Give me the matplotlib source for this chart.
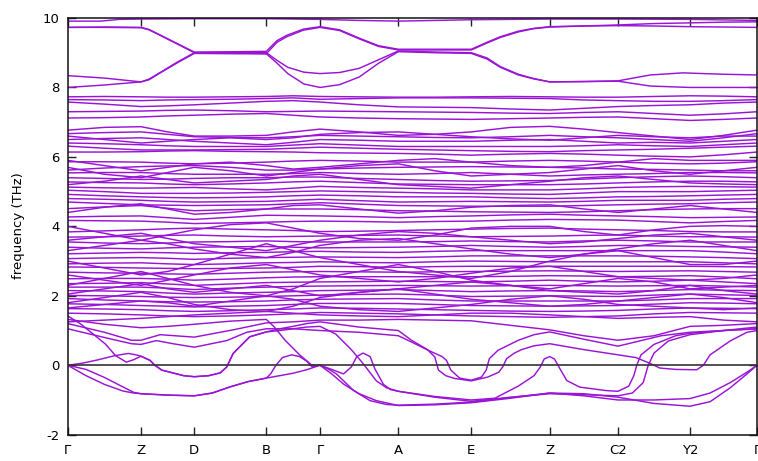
import numpy as np
import matplotlib
matplotlib.use("Agg")
import matplotlib.pyplot as plt

# ---------------- data ----------------
hs_labels = ["Γ", "Z", "D", "B", "Γ", "A", "E", "Z", "C2", "Y2", "Γ"]
hs_dist = [0.0, 0.733, 1.266, 1.986, 2.523, 3.306, 4.036, 4.820, 5.503, 6.223, 6.893]
y_ticks = [-2, 0, 2, 4, 6, 8, 10]

# dense optical bands, values at high-symmetry points and segment midpoints
dense_high = [
    [7.73, 7.74, 7.73, 7.72, 7.72, 7.73, 7.74, 7.76, 7.74, 7.73, 7.72, 7.72, 7.73, 7.74, 7.73, 7.72, 7.72, 7.74, 7.76, 7.75, 7.73],
    [7.65, 7.64, 7.62, 7.64, 7.65, 7.66, 7.68, 7.70, 7.66, 7.68, 7.70, 7.70, 7.70, 7.69, 7.68, 7.64, 7.62, 7.60, 7.60, 7.62, 7.65],
    [7.58, 7.52, 7.45, 7.47, 7.50, 7.55, 7.60, 7.62, 7.58, 7.50, 7.44, 7.43, 7.42, 7.38, 7.35, 7.40, 7.45, 7.48, 7.50, 7.55, 7.58],
    [7.30, 7.31, 7.32, 7.34, 7.35, 7.33, 7.30, 7.31, 7.32, 7.31, 7.30, 7.29, 7.28, 7.26, 7.25, 7.28, 7.30, 7.25, 7.20, 7.24, 7.30],
    [7.12, 7.13, 7.15, 7.18, 7.20, 7.23, 7.25, 7.20, 7.15, 7.12, 7.10, 7.09, 7.08, 7.10, 7.12, 7.14, 7.15, 7.10, 7.05, 7.08, 7.12],
    [6.77, 6.85, 6.87, 6.72, 6.60, 6.60, 6.62, 6.72, 6.80, 6.72, 6.62, 6.65, 6.72, 6.85, 6.88, 6.80, 6.70, 6.60, 6.50, 6.62, 6.77],
    [6.67, 6.70, 6.72, 6.65, 6.58, 6.56, 6.55, 6.58, 6.62, 6.60, 6.58, 6.56, 6.55, 6.58, 6.62, 6.58, 6.55, 6.50, 6.45, 6.55, 6.67],
    [6.50, 6.53, 6.55, 6.50, 6.45, 6.40, 6.35, 6.42, 6.50, 6.48, 6.45, 6.45, 6.45, 6.48, 6.50, 6.45, 6.40, 6.42, 6.40, 6.45, 6.50],
    [6.40, 6.38, 6.35, 6.32, 6.30, 6.30, 6.30, 6.34, 6.38, 6.34, 6.30, 6.30, 6.30, 6.30, 6.30, 6.32, 6.35, 6.32, 6.30, 6.35, 6.40],
    [6.31, 6.25, 6.20, 6.20, 6.20, 6.21, 6.22, 6.25, 6.28, 6.25, 6.22, 6.20, 6.18, 6.16, 6.15, 6.18, 6.20, 6.22, 6.25, 6.28, 6.31],
    [6.14, 6.14, 6.15, 6.17, 6.18, 6.16, 6.15, 6.14, 6.12, 6.11, 6.10, 6.08, 6.05, 6.08, 6.10, 6.08, 6.05, 6.02, 6.00, 6.06, 6.14],
    [5.86, 5.86, 5.85, 5.82, 5.80, 5.82, 5.85, 5.88, 5.90, 5.88, 5.85, 5.85, 5.85, 5.88, 5.90, 5.88, 5.85, 5.82, 5.80, 5.82, 5.86],
    [5.62, 5.68, 5.72, 5.74, 5.75, 5.70, 5.62, 5.62, 5.65, 5.68, 5.70, 5.71, 5.72, 5.71, 5.70, 5.68, 5.65, 5.64, 5.62, 5.60, 5.60],
    [5.54, 5.55, 5.55, 5.52, 5.50, 5.50, 5.50, 5.52, 5.55, 5.52, 5.50, 5.52, 5.55, 5.50, 5.45, 5.48, 5.50, 5.52, 5.55, 5.55, 5.54],
    [5.40, 5.38, 5.35, 5.36, 5.38, 5.40, 5.40, 5.42, 5.42, 5.38, 5.35, 5.32, 5.30, 5.31, 5.32, 5.36, 5.40, 5.43, 5.45, 5.43, 5.40],
    [5.28, 5.26, 5.25, 5.22, 5.20, 5.22, 5.25, 5.28, 5.30, 5.26, 5.22, 5.21, 5.20, 5.20, 5.20, 5.22, 5.25, 5.28, 5.30, 5.30, 5.28],
    [5.13, 5.11, 5.10, 5.11, 5.12, 5.08, 5.05, 5.10, 5.15, 5.12, 5.10, 5.08, 5.05, 5.05, 5.05, 5.08, 5.12, 5.14, 5.15, 5.14, 5.13],
    [5.04, 5.00, 4.95, 4.95, 4.95, 4.96, 4.98, 5.00, 5.02, 5.00, 4.98, 4.96, 4.95, 4.93, 4.92, 4.96, 5.00, 5.00, 5.00, 5.02, 5.04],
    [4.92, 4.88, 4.85, 4.83, 4.82, 4.83, 4.85, 4.88, 4.90, 4.88, 4.85, 4.85, 4.85, 4.82, 4.80, 4.82, 4.85, 4.86, 4.88, 4.90, 4.92],
    [4.80, 4.78, 4.75, 4.72, 4.70, 4.71, 4.72, 4.75, 4.78, 4.74, 4.70, 4.71, 4.72, 4.71, 4.70, 4.72, 4.75, 4.75, 4.75, 4.78, 4.80],
    [4.70, 4.66, 4.62, 4.61, 4.60, 4.61, 4.62, 4.65, 4.68, 4.64, 4.60, 4.59, 4.58, 4.58, 4.58, 4.60, 4.62, 4.64, 4.65, 4.68, 4.70],
    [4.51, 4.56, 4.60, 4.52, 4.45, 4.48, 4.50, 4.50, 4.50, 4.48, 4.45, 4.44, 4.42, 4.41, 4.40, 4.42, 4.45, 4.48, 4.50, 4.51, 4.51],
    [4.27, 4.29, 4.30, 4.25, 4.20, 4.26, 4.32, 4.31, 4.30, 4.28, 4.25, 4.28, 4.30, 4.33, 4.35, 4.32, 4.30, 4.28, 4.25, 4.26, 4.27],
    [4.17, 4.16, 4.15, 4.12, 4.08, 4.10, 4.12, 4.14, 4.15, 4.14, 4.12, 4.14, 4.15, 4.18, 4.20, 4.19, 4.18, 4.14, 4.10, 4.14, 4.17],
]
dense_mid = [
    [3.84, 3.87, 3.90, 3.93, 3.95, 3.92, 3.90, 3.88, 3.85, 3.86, 3.88, 3.90, 3.92, 3.94, 3.95, 3.92, 3.90, 3.88, 3.85, 3.84, 3.84],
    [3.69, 3.70, 3.72, 3.74, 3.75, 3.72, 3.70, 3.71, 3.72, 3.74, 3.75, 3.72, 3.70, 3.71, 3.72, 3.74, 3.75, 3.72, 3.70, 3.70, 3.69],
    [3.55, 3.52, 3.50, 3.52, 3.55, 3.56, 3.58, 3.56, 3.55, 3.55, 3.55, 3.56, 3.58, 3.56, 3.55, 3.58, 3.60, 3.58, 3.55, 3.55, 3.55],
    [3.40, 3.37, 3.35, 3.38, 3.40, 3.41, 3.42, 3.40, 3.38, 3.39, 3.40, 3.42, 3.45, 3.42, 3.40, 3.42, 3.45, 3.44, 3.42, 3.41, 3.40],
    [3.21, 3.23, 3.25, 3.24, 3.22, 3.24, 3.25, 3.27, 3.28, 3.26, 3.25, 3.28, 3.30, 3.30, 3.30, 3.30, 3.30, 3.30, 3.30, 3.26, 3.21],
    [3.07, 3.09, 3.10, 3.08, 3.05, 3.08, 3.10, 3.11, 3.12, 3.11, 3.10, 3.12, 3.15, 3.15, 3.15, 3.15, 3.15, 3.14, 3.12, 3.10, 3.07],
    [2.92, 2.94, 2.95, 2.92, 2.90, 2.92, 2.95, 2.96, 2.98, 2.96, 2.95, 2.98, 3.00, 2.99, 2.98, 2.98, 2.98, 2.98, 2.98, 2.95, 2.92],
    [2.83, 2.82, 2.80, 2.79, 2.78, 2.79, 2.80, 2.82, 2.85, 2.84, 2.82, 2.84, 2.85, 2.85, 2.85, 2.85, 2.85, 2.85, 2.85, 2.84, 2.83],
]
dense_low = [
    [2.68, 2.66, 2.65, 2.63, 2.62, 2.65, 2.68, 2.69, 2.70, 2.69, 2.68, 2.69, 2.70, 2.71, 2.72, 2.71, 2.70, 2.71, 2.72, 2.70, 2.68],
    [2.49, 2.50, 2.50, 2.48, 2.45, 2.48, 2.52, 2.54, 2.55, 2.55, 2.55, 2.55, 2.55, 2.56, 2.58, 2.57, 2.55, 2.56, 2.58, 2.54, 2.49],
    [2.35, 2.36, 2.38, 2.34, 2.30, 2.34, 2.38, 2.39, 2.40, 2.41, 2.42, 2.41, 2.40, 2.42, 2.45, 2.42, 2.40, 2.42, 2.45, 2.40, 2.35],
    [2.25, 2.25, 2.25, 2.22, 2.18, 2.22, 2.25, 2.27, 2.28, 2.29, 2.30, 2.29, 2.28, 2.29, 2.30, 2.29, 2.28, 2.29, 2.30, 2.28, 2.25],
    [2.15, 2.14, 2.12, 2.08, 2.05, 2.08, 2.10, 2.12, 2.15, 2.16, 2.18, 2.15, 2.12, 2.14, 2.15, 2.14, 2.12, 2.15, 2.18, 2.16, 2.15],
    [2.01, 2.00, 1.98, 1.96, 1.95, 1.96, 1.98, 2.00, 2.02, 2.04, 2.05, 2.02, 1.98, 1.99, 2.00, 1.99, 1.98, 2.02, 2.05, 2.03, 2.01],
    [1.92, 1.88, 1.85, 1.83, 1.82, 1.83, 1.85, 1.88, 1.90, 1.91, 1.92, 1.88, 1.85, 1.85, 1.85, 1.85, 1.85, 1.88, 1.92, 1.92, 1.92],
    [1.77, 1.75, 1.72, 1.70, 1.68, 1.70, 1.72, 1.75, 1.78, 1.78, 1.78, 1.75, 1.72, 1.71, 1.70, 1.71, 1.72, 1.76, 1.80, 1.79, 1.77],
    [1.63, 1.62, 1.60, 1.57, 1.55, 1.57, 1.60, 1.62, 1.65, 1.64, 1.62, 1.60, 1.58, 1.56, 1.55, 1.56, 1.58, 1.62, 1.65, 1.64, 1.63],
    [1.50, 1.48, 1.45, 1.42, 1.40, 1.42, 1.45, 1.48, 1.52, 1.50, 1.48, 1.45, 1.42, 1.40, 1.38, 1.40, 1.42, 1.48, 1.52, 1.51, 1.50],
]
dense_wander = [
    [3.00, 2.80, 2.60, 2.70, 2.90, 3.20, 3.50, 3.30, 3.10, 2.90, 2.70, 2.60, 2.50, 2.70, 3.00, 3.20, 3.30, 3.10, 2.90, 2.90, 3.00],
    [2.30, 2.50, 2.70, 2.50, 2.30, 2.10, 2.00, 2.20, 2.50, 2.70, 2.90, 2.70, 2.45, 2.30, 2.20, 2.35, 2.50, 2.40, 2.20, 2.25, 2.30],
    [4.00, 3.80, 3.60, 3.75, 3.90, 4.05, 4.10, 3.95, 3.80, 3.65, 3.60, 3.75, 3.95, 4.00, 4.00, 3.85, 3.75, 3.90, 4.00, 4.02, 4.00],
    [5.70, 5.50, 5.40, 5.55, 5.70, 5.60, 5.45, 5.55, 5.65, 5.75, 5.80, 5.60, 5.45, 5.50, 5.55, 5.65, 5.75, 5.60, 5.50, 5.60, 5.70],
    [1.80, 1.95, 2.10, 1.95, 1.75, 1.60, 1.55, 1.70, 1.95, 2.10, 2.20, 2.05, 1.90, 1.80, 1.70, 1.75, 1.85, 1.95, 2.05, 1.95, 1.80],
    [3.30, 3.45, 3.60, 3.50, 3.35, 3.20, 3.10, 3.25, 3.45, 3.60, 3.65, 3.50, 3.35, 3.20, 3.10, 3.20, 3.35, 3.50, 3.60, 3.45, 3.30],
    [4.40, 4.55, 4.65, 4.50, 4.35, 4.40, 4.50, 4.60, 4.62, 4.50, 4.38, 4.45, 4.55, 4.60, 4.62, 4.50, 4.40, 4.50, 4.60, 4.50, 4.40],
    [5.90, 5.75, 5.60, 5.70, 5.80, 5.85, 5.75, 5.65, 5.70, 5.80, 5.90, 5.95, 5.85, 5.75, 5.70, 5.75, 5.85, 5.95, 5.90, 5.90, 5.90],
    [2.60, 2.45, 2.30, 2.45, 2.60, 2.80, 2.90, 2.75, 2.60, 2.50, 2.40, 2.50, 2.65, 2.80, 2.85, 2.70, 2.55, 2.50, 2.45, 2.50, 2.60],
    [1.65, 1.75, 1.85, 1.80, 1.70, 1.85, 2.00, 1.90, 1.70, 1.60, 1.55, 1.65, 1.75, 1.90, 2.00, 1.90, 1.75, 1.70, 1.65, 1.60, 1.65],
    [3.60, 3.70, 3.80, 3.65, 3.50, 3.40, 3.30, 3.45, 3.60, 3.75, 3.85, 3.80, 3.70, 3.60, 3.50, 3.55, 3.65, 3.75, 3.80, 3.70, 3.60],
    [5.20, 5.30, 5.45, 5.35, 5.25, 5.30, 5.35, 5.45, 5.50, 5.35, 5.20, 5.15, 5.10, 5.20, 5.30, 5.40, 5.45, 5.35, 5.25, 5.22, 5.20],
    [6.60, 6.50, 6.40, 6.45, 6.50, 6.55, 6.50, 6.55, 6.65, 6.70, 6.72, 6.65, 6.58, 6.52, 6.48, 6.55, 6.62, 6.58, 6.55, 6.60, 6.60],
    [2.05, 2.20, 2.35, 2.20, 2.10, 2.20, 2.30, 2.15, 2.00, 2.10, 2.20, 2.30, 2.40, 2.30, 2.15, 2.10, 2.05, 2.15, 2.30, 2.15, 2.05],
    [1.25, 1.30, 1.35, 1.40, 1.45, 1.50, 1.55, 1.50, 1.45, 1.42, 1.40, 1.45, 1.50, 1.50, 1.45, 1.40, 1.35, 1.38, 1.40, 1.30, 1.25],
]

# bands read as (path position in segments, frequency) knots
band_T1 = [(0, 9.91), (0.45, 9.91), (0.7, 9.96), (1, 9.97), (2, 9.98), (3, 9.98), (4, 9.96), (4.5, 9.93),
           (5, 9.91), (5.5, 9.93), (6, 9.95), (7, 9.97), (8, 9.97), (9, 9.96), (10, 9.93)]
band_T2 = [(0, 9.73), (0.5, 9.74), (1, 9.73), (1.15, 9.67), (1.36, 9.51), (1.67, 9.27), (2, 9.02), (2.65, 9.03),
           (3, 9.04), (3.2, 9.35), (3.38, 9.5), (3.69, 9.68), (4, 9.75), (4.25, 9.66), (4.5, 9.42), (4.75, 9.2),
           (5, 9.1), (5.5, 9.1), (6, 9.1), (6.2, 9.3), (6.37, 9.46), (6.6, 9.62), (6.79, 9.7), (7, 9.75),
           (7.5, 9.77), (8, 9.78), (8.5, 9.77), (9, 9.75), (9.5, 9.74), (10, 9.73)]
band_T3 = [(0, 9.73), (0.5, 9.73), (1, 9.72), (1.15, 9.66), (1.36, 9.5), (1.67, 9.26), (2, 9.0), (2.65, 8.99),
           (3, 8.97), (3.2, 9.3), (3.38, 9.46), (3.69, 9.65), (4, 9.73), (4.25, 9.64), (4.5, 9.4), (4.75, 9.18),
           (5, 9.08), (5.5, 9.08), (6, 9.08), (6.2, 9.28), (6.37, 9.44), (6.6, 9.6), (6.79, 9.69), (7, 9.74),
           (7.5, 9.77), (8, 9.8), (8.5, 9.84), (9, 9.86), (9.5, 9.88), (10, 9.89)]
band_T4 = [(0, 8.34), (0.5, 8.27), (1, 8.16), (1.15, 8.24), (1.36, 8.43), (1.67, 8.72), (2, 9.0), (2.65, 9.0),
           (3, 9.0), (3.2, 8.78), (3.4, 8.58), (3.7, 8.44), (4, 8.4), (4.25, 8.43), (4.5, 8.55), (4.75, 8.8),
           (5, 9.05), (5.5, 9.02), (6, 9.0), (6.2, 8.85), (6.37, 8.6), (6.6, 8.38), (6.79, 8.26), (7, 8.16),
           (7.5, 8.17), (8, 8.19), (8.45, 8.36), (8.9, 8.42), (9.5, 8.38), (10, 8.36)]
band_T5 = [(0, 8.0), (0.5, 8.07), (1, 8.16), (1.15, 8.22), (1.36, 8.42), (1.67, 8.7), (2, 8.98), (2.65, 8.97),
           (3, 8.97), (3.2, 8.7), (3.4, 8.4), (3.7, 8.1), (4, 8.0), (4.25, 8.08), (4.5, 8.3), (4.75, 8.7),
           (5, 9.03), (5.5, 9.0), (6, 8.98), (6.2, 8.82), (6.37, 8.58), (6.6, 8.36), (6.79, 8.25), (7, 8.16),
           (7.5, 8.17), (8, 8.18), (8.45, 8.04), (9, 8.0), (9.5, 8.0), (10, 8.0)]

band_L1 = [(0, 0), (0.25, -0.3), (0.5, -0.55), (0.75, -0.74), (0.9, -0.8), (1, -0.82), (1.5, -0.86), (2, -0.88),
           (2.25, -0.8), (2.5, -0.62), (2.75, -0.47), (3, -0.37), (3.25, -0.3), (3.5, -0.23), (3.75, -0.13),
           (4, 0), (4.15, -0.25), (4.3, -0.54), (4.5, -0.82), (4.72, -1.02), (5, -1.16), (5.5, -1.14),
           (6, -1.08), (6.5, -0.95), (7, -0.8), (7.5, -0.82), (8, -0.92), (8.5, -1.1), (9, -1.18),
           (9.3, -1.05), (9.6, -0.65), (9.85, -0.25), (10, 0)]
band_L2 = [(0, 0), (0.25, -0.12), (0.5, -0.35), (0.75, -0.62), (0.9, -0.78), (1, -0.82), (1.5, -0.86), (2, -0.88),
           (2.25, -0.8), (2.5, -0.62), (2.75, -0.47), (3, -0.37), (3.08, -0.25), (3.18, 0.0), (3.3, 0.22),
           (3.47, 0.3), (3.62, 0.25), (3.75, 0.12), (3.85, -0.04), (4, 0), (4.1, -0.1), (4.21, -0.25),
           (4.43, -0.73), (4.64, -1.02), (4.85, -1.13), (5, -1.15), (5.5, -1.12), (6, -1.06), (6.5, -0.93),
           (7, -0.8), (7.5, -0.88), (8, -1.0), (8.5, -1.0), (9, -0.96), (9.3, -0.8), (9.6, -0.5),
           (9.85, -0.2), (10, 0)]
band_L3 = [(0, 0), (0.2, 0.06), (0.4, 0.15), (0.65, 0.28), (0.83, 0.34), (0.95, 0.29), (1, 0.26), (1.17, 0.14),
           (1.26, 0.0), (1.39, -0.14), (1.8, -0.3), (2, -0.33), (2.2, -0.3), (2.36, -0.22), (2.45, -0.05),
           (2.54, 0.34), (2.77, 0.82), (3, 0.96), (3.25, 1.0), (3.5, 1.05), (3.75, 1.1), (4, 1.12),
           (4.2, 0.9), (4.4, 0.45), (4.55, 0.05), (4.72, -0.45), (4.85, -0.65), (5, -0.75), (5.5, -0.92),
           (6, -1.04), (6.5, -0.92), (7, -0.82), (7.5, -0.85), (8, -0.88), (8.2, -0.8), (8.35, -0.5),
           (8.42, 0.0), (8.5, 0.35), (8.7, 0.7), (9, 0.88), (9.5, 1.0), (10, 1.05)]
band_L4 = [(0, 1.42), (0.17, 1.2), (0.37, 0.86), (0.52, 0.6), (0.65, 0.28), (0.8, 0.09), (0.9, 0.16), (1, 0.26),
           (1.17, 0.14), (1.26, 0.0), (1.39, -0.14), (1.8, -0.3), (2, -0.33), (2.2, -0.3), (2.36, -0.22),
           (2.45, -0.05), (2.54, 0.34), (2.77, 0.82), (3, 0.96), (3.25, 1.05), (3.5, 1.12), (3.75, 1.2),
           (4, 1.25), (4.5, 1.1), (5, 1.0), (5.18, 0.72), (5.4, 0.45), (5.5, 0.24), (5.55, -0.14),
           (5.65, -0.3), (5.77, -0.38), (6, -0.45), (6.21, -0.34), (6.35, -0.2), (6.4, -0.05), (6.45, 0.19),
           (6.55, 0.35), (6.64, 0.45), (6.8, 0.56), (7, 0.62), (7.5, 0.45), (8, 0.3), (8.25, 0.22),
           (8.45, 0.05), (8.58, -0.08), (8.8, -0.12), (9.1, -0.13), (9.2, 0.0), (9.3, 0.3), (9.6, 0.7),
           (9.85, 0.95), (10, 1.0)]
band_L5 = [(0, 1.32), (0.5, 1.18), (1, 1.08), (1.5, 1.12), (2, 1.18), (2.5, 1.27), (3, 1.32), (3.15, 1.1),
           (3.35, 0.72), (3.62, 0.3), (3.85, 0.0), (4, 0), (4.15, -0.12), (4.3, -0.25), (4.4, -0.05),
           (4.47, 0.25), (4.55, 0.35), (4.64, 0.25), (4.7, -0.1), (4.81, -0.55), (4.9, -0.7), (5, -0.75),
           (5.5, -0.9), (6, -1.0), (6.3, -0.95), (6.6, -0.6), (6.8, -0.3), (6.88, -0.05), (6.93, 0.18),
           (7, 0.25), (7.07, 0.18), (7.15, -0.1), (7.25, -0.44), (7.44, -0.63), (7.83, -0.73), (8, -0.75),
           (8.15, -0.6), (8.22, -0.3), (8.26, 0.0), (8.32, 0.3), (8.5, 0.6), (8.8, 0.85), (9, 0.92),
           (9.5, 1.0), (10, 1.1)]
band_U1 = [(0, 1.05), (0.5, 0.8), (0.87, 0.62), (1, 0.6), (1.29, 0.71), (1.6, 0.62), (2, 0.52), (2.45, 0.71),
           (2.73, 0.95), (3, 1.05), (3.5, 1.05), (4, 1.0), (4.5, 0.95), (5, 0.85), (5.2, 0.65), (5.41, 0.43),
           (5.6, 0.25), (5.66, 0.14), (5.72, -0.14), (5.84, -0.37), (6, -0.43), (6.13, -0.34), (6.19, -0.14),
           (6.23, 0.19), (6.34, 0.43), (6.6, 0.72), (6.8, 0.88), (7, 0.96), (7.5, 0.75), (8, 0.55),
           (8.3, 0.7), (8.6, 0.85), (9, 0.95), (9.5, 1.0), (10, 1.05)]
band_U2 = [(0, 1.2), (0.5, 0.95), (0.87, 0.72), (1, 0.72), (1.36, 0.88), (2, 0.81), (2.54, 1.02), (3, 1.22),
           (3.5, 1.25), (4, 1.3), (4.5, 1.3), (5, 1.32), (5.5, 1.3), (6, 1.28), (6.5, 1.15), (7, 1.02),
           (7.5, 0.85), (8, 0.72), (8.5, 0.85), (9, 1.12), (9.5, 1.15), (10, 1.2)]

knot_bands = [band_T1, band_T2, band_T3, band_T4, band_T5,
              band_L1, band_L2, band_L3, band_L4, band_L5, band_U1, band_U2]

# ---------------- drawing ----------------
W, H = 758, 461
fig = plt.figure(figsize=(W / 100, H / 100), dpi=100)
ax = fig.add_axes([67.7 / W, 1 - 434.7 / H, (757.0 - 67.7) / W, (434.7 - 18.0) / H])

line_color = "#9a14d6"
lw = 1.05
seg_idx = np.arange(len(hs_dist))


def to_k(s):
    return np.interp(np.asarray(s, dtype=float), seg_idx, hs_dist)


mid_pos = np.arange(0, len(hs_dist) - 0.99, 0.5)
for group in (dense_high, dense_mid, dense_low, dense_wander):
    for row in group:
        ax.plot(to_k(mid_pos), row, color=line_color, lw=lw, solid_joinstyle="round")

for band in knot_bands:
    s_vals = [p[0] for p in band]
    f_vals = [p[1] for p in band]
    ax.plot(to_k(s_vals), f_vals, color=line_color, lw=lw, solid_joinstyle="round")

ax.axhline(0, color="#333333", lw=1.2, zorder=5)

ax.set_xlim(hs_dist[0], hs_dist[-1])
ax.set_ylim(-2, 10)
ax.set_xticks(hs_dist)
ax.set_xticklabels(hs_labels, fontsize=9.5)
ax.set_yticks(y_ticks)
ax.set_yticklabels([str(t) for t in y_ticks], fontsize=9.5)
ax.tick_params(axis="both", direction="in", length=6, width=1.0, color="#222222",
               top=True, right=True, bottom=True, left=True)
ax.tick_params(axis="x", pad=7)
ax.tick_params(axis="y", pad=6)
for sp in ax.spines.values():
    sp.set_linewidth(1.1)
    sp.set_color("#111111")

fig.text(18.5 / W, 1 - 226 / H, "frequency (THz)", rotation=90, ha="center", va="center", fontsize=9.5)

fig.savefig("out.png", dpi=100)
